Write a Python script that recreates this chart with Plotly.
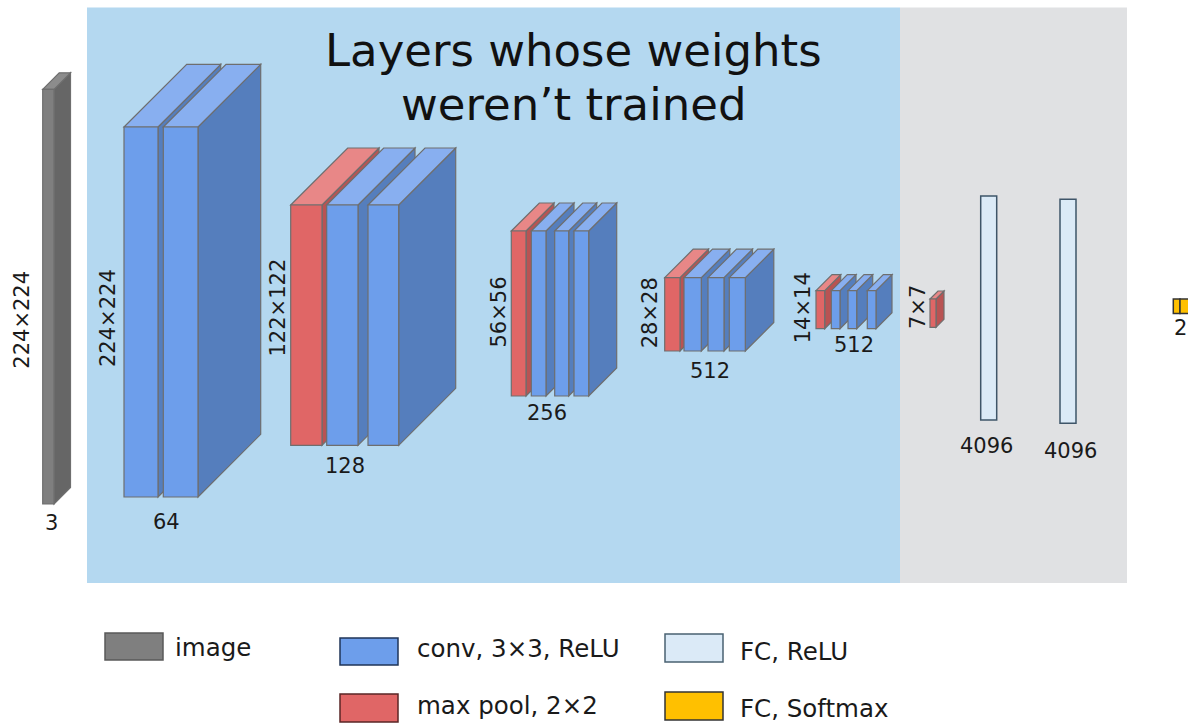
import plotly.graph_objects as go

W, H = 1188, 728

# ---------------- data ----------------
group_kinds = [
    ["image"],
    ["conv", "conv"],
    ["pool", "conv", "conv"],
    ["pool", "conv", "conv", "conv"],
    ["pool", "conv", "conv", "conv"],
    ["pool", "conv", "conv", "conv"],
    ["pool"],
]
spatial_labels = ["224×224", "224×224", "122×122", "56×56", "28×28", "14×14", "7×7"]
channel_labels = ["3", "64", "128", "256", "512", "512"]
fc_labels = ["4096", "4096"]
softmax_label = "2"
legend_labels = ["image", "conv, 3×3, ReLU", "max pool, 2×2", "FC, ReLU", "FC, Softmax"]
legend_kinds = ["image", "conv", "pool", "fc", "softmax"]
title_lines = ["Layers whose weights", "weren’t trained"]

# ---------------- geometry (pixel layout) ----------------
slab_edges = [
    [(42.7, 54.0)],
    [(124, 158), (163.3, 198)],
    [(290.7, 322), (326.7, 358), (368, 398.7)],
    [(511.3, 526), (531.3, 546), (554.7, 568.7), (574, 588.7)],
    [(664.7, 680), (684, 701.3), (708, 724), (729.3, 745.3)],
    [(816, 824.7), (831.3, 840), (848, 856.7), (867.3, 876)],
    [(930, 936)],
]
slab_top = [89.3, 127, 205, 231, 277.7, 290.7, 299]
slab_bottom = [504, 497, 445.3, 396, 351, 328.7, 327.3]
slab_depth = [16.5, 62.7, 57, 28, 28.5, 16, 8]

spatial_pos = [(21.7, 320), (108, 318), (277, 307.5), (498, 312.5), (650, 313.3), (803, 308.3), (917.3, 306.7)]
channel_pos = [(51, 523), (166, 522), (345, 466), (547, 412.7), (710, 371), (854, 345.3)]

fc_edges = [(980.7, 996.7, 196, 420), (1060, 1076, 199.3, 423.3)]
fc_label_pos = [(986, 445.7), (1070, 450.7)]
softmax_edges = [(1173.3, 1180, 299, 313.5), (1180, 1192, 299, 313.5)]
softmax_label_pos = (1180, 328)

legend_swatches = [(105, 163, 633, 660), (340, 398, 638, 665), (340, 398, 694, 722),
                   (665, 723, 634, 662), (665, 723, 692, 720)]
legend_text_pos = [(173, 647), (415, 648), (415, 705), (738, 651), (738, 708)]

# ---------------- styles ----------------
face_colors = {
    "image": dict(front="#7f7f7f", top="#8c8c8c", side="#666666"),
    "conv": dict(front="#6d9eeb", top="#88aff0", side="#557ebd"),
    "pool": dict(front="#e06666", top="#e88787", side="#b95353"),
}
swatch_style = {
    "image": ("#7f7f7f", "#5a5a5a"),
    "conv": ("#6d9eeb", "#1f3558"),
    "pool": ("#e06666", "#5a2626"),
    "fc": ("#dbeaf7", "#4a6272"),
    "softmax": ("#ffc000", "#333333"),
}
EDGE = "#6e6e6e"
FONT = "DejaVu Sans"

shapes = []


def path(pts):
    return "M " + " L ".join(f"{x},{y}" for x, y in pts) + " Z"


# background regions
shapes.append(dict(type="rect", x0=87, x1=900, y0=7.5, y1=583, xref="x", yref="y",
                   fillcolor="#b4d8f0", line=dict(width=0), layer="below"))
shapes.append(dict(type="rect", x0=900, x1=1127, y0=7.5, y1=583, xref="x", yref="y",
                   fillcolor="#e0e1e3", line=dict(width=0), layer="below"))

# cuboid slabs
for g, kinds in enumerate(group_kinds):
    top, bot, d = slab_top[g], slab_bottom[g], slab_depth[g]
    for (x0, x1), kind in zip(slab_edges[g], kinds):
        c = face_colors[kind]
        side = [(x1, top), (x1 + d, top - d), (x1 + d, bot - d), (x1, bot)]
        topf = [(x0, top), (x0 + d, top - d), (x1 + d, top - d), (x1, top)]
        front = [(x0, top), (x1, top), (x1, bot), (x0, bot)]
        for pts, col in ((side, c["side"]), (topf, c["top"]), (front, c["front"])):
            shapes.append(dict(type="path", path=path(pts), xref="x", yref="y",
                               fillcolor=col, line=dict(color=EDGE, width=1.2)))

# FC layers
for x0, x1, y0, y1 in fc_edges:
    shapes.append(dict(type="rect", x0=x0, x1=x1, y0=y0, y1=y1, xref="x", yref="y",
                       fillcolor="#dbeaf7", line=dict(color="#3e5569", width=1.5)))
for x0, x1, y0, y1 in softmax_edges:
    shapes.append(dict(type="rect", x0=x0, x1=x1, y0=y0, y1=y1, xref="x", yref="y",
                       fillcolor="#ffc000", line=dict(color="#333333", width=1.5)))

# legend swatches
for (x0, x1, y0, y1), kind in zip(legend_swatches, legend_kinds):
    fill, edge = swatch_style[kind]
    shapes.append(dict(type="rect", x0=x0, x1=x1, y0=y0, y1=y1, xref="x", yref="y",
                       fillcolor=fill, line=dict(color=edge, width=1.5)))

annotations = []


def label(x, y, text, size=21, angle=0, xanchor="center", color="#1a1a1a"):
    annotations.append(dict(x=x, y=y, xref="x", yref="y", text=text, showarrow=False,
                            textangle=angle, xanchor=xanchor, yanchor="middle",
                            font=dict(family=FONT, size=size, color=color)))


for (x, y), t in zip(spatial_pos, spatial_labels):
    label(x, y, t, angle=-90)
for (x, y), t in zip(channel_pos, channel_labels):
    label(x, y, t)
for (x, y), t in zip(fc_label_pos, fc_labels):
    label(x, y, t)
label(softmax_label_pos[0], softmax_label_pos[1], softmax_label)

for (x, y), t in zip(legend_text_pos, legend_labels):
    label(x, y, t, size=24.5, xanchor="left")

label(573, 50, title_lines[0], size=45, color="#111111")
label(573, 104, title_lines[1], size=45, color="#111111")

fig = go.Figure()
fig.add_trace(go.Scatter(x=[0, W], y=[0, H], mode="markers",
                         marker=dict(opacity=0), hoverinfo="skip", showlegend=False))
fig.update_layout(
    width=W, height=H, margin=dict(l=0, r=0, t=0, b=0),
    paper_bgcolor="white", plot_bgcolor="white",
    xaxis=dict(range=[0, W], visible=False, fixedrange=True),
    yaxis=dict(range=[H, 0], visible=False, fixedrange=True),
    shapes=shapes, annotations=annotations, showlegend=False,
)
fig.write_html(
    "out.html",
    config=dict(displayModeBar=False),
    post_script="document.body.style.margin='0';document.body.style.overflow='hidden';",
)
